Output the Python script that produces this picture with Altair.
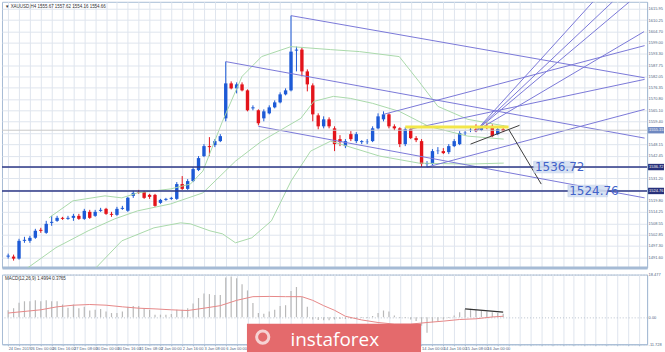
import altair as alt
import pandas as pd

# ---------------- data (XAUUSD H4) ----------------
opens = [1491.9, 1491.9, 1490.9, 1499.8, 1499.8, 1501.3, 1505.3, 1503.8, 1508.8, 1509.8,
         1511.3, 1510.8, 1511.3, 1512.3, 1510.8, 1514.3, 1512.3, 1514.8, 1515.8, 1513.3,
         1512.8, 1515.8, 1514.8, 1522.3, 1524.3, 1524.3, 1522.8, 1522.8, 1518.8, 1520.3,
         1520.8, 1520.8, 1528.2, 1525.8, 1529.7, 1535.2, 1542.2, 1547.2, 1547.7, 1549.7,
         1561.1, 1578.6, 1576.1, 1578.1, 1575.1, 1566.1, 1565.1, 1561.1, 1563.6, 1566.6,
         1569.1, 1573.1, 1575.1, 1595.0, 1595.5, 1584.6, 1577.6, 1562.6, 1557.1, 1560.6,
         1556.1, 1550.7, 1547.2, 1553.2, 1549.7, 1549.2, 1549.2, 1549.7, 1556.1, 1560.6,
         1563.1, 1557.1, 1556.1, 1548.2, 1555.6, 1551.2, 1549.7, 1538.2, 1538.2, 1544.7,
         1544.7, 1544.2, 1547.2, 1548.2, 1553.7, 1555.2, 1555.7, 1555.2, 1556.6, 1557.1,
         1553.2, 1555.7]
highs = [1493.4, 1492.9, 1500.8, 1501.8, 1502.3, 1505.8, 1506.3, 1509.8, 1512.3, 1512.3,
         1511.8, 1512.3, 1513.3, 1513.3, 1515.8, 1515.3, 1515.3, 1516.3, 1516.3, 1514.3,
         1516.8, 1517.3, 1521.8, 1524.8, 1525.3, 1524.8, 1523.3, 1523.3, 1520.8, 1521.3,
         1521.8, 1529.2, 1532.2, 1530.7, 1536.7, 1542.2, 1548.2, 1551.7, 1550.7, 1553.2,
         1589.5, 1579.6, 1579.1, 1579.1, 1575.6, 1567.6, 1565.6, 1565.6, 1567.6, 1570.1,
         1574.1, 1576.1, 1612.5, 1597.0, 1596.5, 1585.6, 1578.6, 1563.6, 1562.1, 1561.6,
         1557.1, 1552.7, 1550.7, 1554.7, 1554.2, 1550.2, 1550.7, 1557.1, 1563.6, 1564.6,
         1563.6, 1558.1, 1556.6, 1556.6, 1556.1, 1552.2, 1550.7, 1539.7, 1545.7, 1546.7,
         1546.2, 1548.2, 1550.7, 1554.7, 1554.7, 1556.6, 1558.1, 1557.6, 1558.6, 1558.1,
         1556.6, 1557.6]
lows = [1490.9, 1489.9, 1490.4, 1498.8, 1498.8, 1500.8, 1503.8, 1503.3, 1507.3, 1509.3,
        1510.3, 1510.3, 1509.8, 1510.3, 1510.3, 1510.8, 1511.8, 1514.3, 1512.8, 1511.8,
        1512.3, 1515.3, 1514.3, 1521.3, 1523.3, 1520.8, 1520.8, 1516.8, 1518.3, 1519.8,
        1520.3, 1520.3, 1525.3, 1525.3, 1529.2, 1534.7, 1541.7, 1542.2, 1546.7, 1549.2,
        1559.6, 1575.6, 1573.6, 1574.6, 1564.6, 1565.1, 1557.6, 1559.6, 1563.1, 1566.1,
        1568.6, 1572.6, 1574.6, 1584.6, 1582.1, 1574.6, 1559.6, 1555.6, 1556.1, 1556.1,
        1544.7, 1547.2, 1546.2, 1549.7, 1548.7, 1548.2, 1548.2, 1549.2, 1555.6, 1559.6,
        1556.1, 1555.1, 1546.7, 1547.2, 1550.7, 1549.2, 1536.7, 1536.7, 1537.7, 1543.2,
        1543.2, 1543.2, 1546.7, 1547.7, 1552.7, 1554.2, 1554.2, 1554.7, 1555.7, 1551.7,
        1552.7, 1554.2]
closes = [1492.4, 1490.9, 1499.8, 1500.3, 1501.3, 1504.8, 1504.8, 1508.3, 1509.3, 1511.3,
          1510.8, 1511.3, 1512.3, 1510.8, 1514.8, 1511.3, 1514.3, 1515.3, 1513.3, 1512.8,
          1515.8, 1516.3, 1521.3, 1523.8, 1524.0, 1521.3, 1521.8, 1517.3, 1520.3, 1520.8,
          1521.3, 1528.2, 1525.8, 1529.7, 1535.7, 1541.2, 1547.2, 1546.7, 1549.7, 1552.2,
          1578.6, 1576.1, 1578.1, 1575.1, 1565.1, 1566.6, 1558.6, 1564.6, 1566.6, 1569.1,
          1573.1, 1575.1, 1594.5, 1595.5, 1584.6, 1578.1, 1563.1, 1557.1, 1560.6, 1557.1,
          1548.2, 1549.2, 1549.7, 1550.7, 1553.2, 1549.7, 1549.4, 1556.1, 1562.1, 1563.1,
          1557.1, 1556.1, 1548.2, 1555.6, 1551.2, 1550.2, 1538.2, 1538.7, 1544.7, 1544.9,
          1543.7, 1547.2, 1549.7, 1553.7, 1553.9, 1555.4, 1554.7, 1556.6, 1556.4, 1552.2,
          1555.7, 1554.7]

macd_hist = [3.0, 3.9, 6.3, 6.9, 6.9, 7.3, 6.9, 7.3, 6.9, 6.9,
             5.5, 4.1, 5.5, 3.9, 4.5, 2.9, 3.2, 3.6, 2.5, 1.8,
             1.8, 2.5, 4.5, 4.8, 4.8, 3.9, 3.2, 1.1, 1.1, 1.1,
             1.4, 3.2, 3.2, 3.9, 5.9, 8.3, 10.3, 10.0, 9.6, 9.6,
             17.2, 17.6, 16.9, 14.3, 11.6, 6.2, 1.8, 1.5, 2.5, 3.2,
             4.8, 5.2, 11.4, 13.1, 8.7, 4.5, -1.0, -1.2, -1.3, -1.3,
             -1.0, -0.8, -0.8, -0.7, -0.6, -0.4, -0.3, 0.5, 1.8, 2.9,
             2.5, 0.7, -0.4, -0.4, -1.0, -1.6, -3.7, -6.7, -2.3, -1.6,
             -1.0, -0.3, 0.7, 2.1, 3.4, 3.6, 3.2, 2.9, 2.5, 2.1,
             1.8, 1.5]
signal_k = [0, 6, 9, 12, 15, 18, 21, 24, 27, 30, 33, 36, 39, 42, 45, 48, 51, 54, 56, 58,
            60, 62, 65, 68, 71, 74, 77, 80, 83, 86, 89, 91]
signal_v = [1.8, 3.2, 4.5, 5.2, 5.5, 5.2, 4.5, 3.9, 3.6, 3.2, 2.9, 3.9, 5.0, 7.3, 8.9, 9.0,
            8.9, 8.9, 7.3, 5.0, 3.0, 0.4, -1.2, -2.3, -3.0, -3.0, -2.3, -1.7, -1.0, -0.7,
            0.1, 0.4]

# Bollinger bands (read points)
bb_up_k = [7.5, 11.9, 17.8, 20.9, 23.8, 29.9, 33.5, 35.8, 39.4, 43, 46.6, 52, 59.3, 64.6, 71.9, 75.5, 79, 84.5, 91.7]
bb_up_p = [1511.3, 1519.8, 1522.3, 1521.3, 1523.8, 1525.8, 1528.2, 1534.7, 1559.6, 1582.1, 1592.0, 1597.0,
           1595.5, 1594.5, 1592.0, 1579.6, 1567.1, 1560.6, 1557.1]
bb_mid_k = [3.4, 8.8, 14.7, 19.6, 23.8, 29.9, 35.8, 41.8, 46.6, 53.8, 56.2, 59.8, 62.9, 67, 71.9, 77.3, 84.5, 91.1]
bb_mid_p = [1485.9, 1496.4, 1504.8, 1510.8, 1514.8, 1518.3, 1523.8, 1539.7, 1549.7, 1561.1, 1569.6, 1572.1,
            1571.1, 1568.6, 1564.6, 1557.1, 1552.2, 1550.7]
bb_low_k = [16, 20.9, 26.8, 31.7, 33.5, 37.1, 39.4, 41.8, 44.8, 48.4, 52, 55.6, 59.3, 68.3, 75.5, 84.5, 91.1]
bb_low_p = [1485.9, 1499.8, 1506.3, 1508.8, 1508.3, 1504.8, 1503.3, 1498.8, 1501.3, 1509.8, 1529.7, 1544.7,
            1549.7, 1542.2, 1538.7, 1538.2, 1538.7]

# drawn objects: (bar index, price) end points
chan_names = ["A", "B", "C", "D", "E", "F", "G1", "G2", "G3", "G4"]
chan_k0 = [52, 40, 46, 77, 69, 73.7, 85.9, 85.9, 85.9, 85.9]
chan_p0 = [1612.5, 1589.5, 1557.1, 1536.7, 1563.1, 1555.6, 1554.6, 1554.6, 1554.6, 1554.6]
chan_k1 = [117, 117, 117, 117, 117, 117, 107.5, 111.1, 114.2, 116.9]
chan_p1 = [1581.4, 1551.2, 1521.3, 1565.6, 1597.5, 1580.6, 1619.4, 1619.4, 1619.4, 1604.5]

black_k0 = [85, 92]
black_p0 = [1548.2, 1555.65]
black_k1 = [94, 98]
black_p1 = [1557.6, 1528.2]

yellow_k = [73, 92]
yellow_p = 1556.8

level_prices = [1536.72, 1524.76]
level_text = ["1536.72", "1524.76"]
level_box_k = [96.6, 102.9]
current_price = 1555.15

price_ticks = [1615.95, 1610.25, 1604.70, 1599.00, 1593.30, 1587.75, 1582.05, 1576.35, 1570.80,
               1565.10, 1559.40, 1553.85, 1548.15, 1542.45, 1536.90, 1531.20, 1525.50, 1519.80,
               1514.25, 1508.55, 1502.85, 1497.30, 1491.60]
macd_ticks = [18.477, 0.0, -11.728]
macd_tick_text = ["18.477", "0.00", "-11.728"]

# bar-axis labels every 4 bars (k = 0, 4, ..., 88); those under the logo box are hidden
x_label_text = ["24 Dec 2019", "26 Dec 00:00", "26 Dec 16:00", "27 Dec 08:00", "30 Dec 00:00",
                "30 Dec 16:00", "31 Dec 08:00", "2 Jan 00:00", "2 Jan 16:00", "3 Jan 08:00",
                "6 Jan 00:00", "", "", "", "", "", "", "", "", "14 Jan 00:00",
                "14 Jan 16:00", "15 Jan 08:00", "16 Jan 00:00"]

# ---------------- layout / style ----------------
W = 648
H1 = 267
H2 = 70
STEP = 5.55
KMIN = -1.2 / STEP
KMAX = KMIN + W / STEP
PMIN, PMAX = 1486.4, 1619.43
MMIN, MMAX = -11.728, 18.477

GRID = "#dfe5ee"
FRAME = "#a6bbd5"
UP = "#1d5ad6"
DOWN = "#e3141b"
LINEC = "#7a78d8"
BBC = "#a9d9a9"
FONT = "Liberation Sans"

xs = alt.Scale(domain=[KMIN, KMAX], nice=False, zero=False)
ys = alt.Scale(domain=[PMIN, PMAX], nice=False, zero=False)
ms = alt.Scale(domain=[MMIN, MMAX], nice=False, zero=False)

tag_prices = [current_price] + level_prices
hide_cond = " || ".join(f"abs(datum.value - {p}) < 2.2" for p in tag_prices)

grid_vals = list(range(0, 118, 2))
x_axis_top = alt.Axis(values=grid_vals, labels=False, ticks=False, title=None, grid=True,
                      gridColor=GRID, domainColor=FRAME, domainWidth=3)
y_axis_top = alt.Axis(orient="right", values=price_ticks, labelFontSize=4,
                      labelExpr=f"({hide_cond}) ? '' : format(datum.value, '.2f')",
                      labelFont=FONT, labelColor="#4f5f80", ticks=False, labelPadding=1,
                      domainColor=FRAME, grid=True, gridColor=GRID, title=None)

arr = "[" + ",".join("'" + t + "'" for t in x_label_text) + "]"
x_axis_bot = alt.Axis(values=grid_vals, title=None, grid=True, gridColor=GRID,
                      labelExpr=f"(datum.value % 4 == 0 && datum.value <= 88) ? {arr}[datum.value / 4] : ''",
                      labelAlign="left", labelBaseline="top", labelFontSize=4, labelFont=FONT,
                      labelColor="#4f5f80", labelPadding=0.5, tickSize=1.5, tickColor=FRAME,
                      domainColor=FRAME, labelFlush=False, labelOverlap=False)
y_axis_bot = alt.Axis(orient="right", values=macd_ticks, labelFontSize=4, labelFont=FONT,
                      labelColor="#4f5f80", ticks=False, labelPadding=1, domainColor=FRAME,
                      grid=True, gridColor="#b9c3cf", gridDash=[1, 2], title=None,
                      labelExpr="datum.value == 0 ? '0.00' : (datum.value > 0 ? '18.477' : '-11.728')")


def X(f):
    return alt.X(f, type="quantitative", scale=xs, axis=x_axis_top)


def Y(f):
    return alt.Y(f, type="quantitative", scale=ys, axis=y_axis_top)


# ---------------- frames ----------------
n = len(opens)
candles = pd.DataFrame({
    "k": list(range(n)), "open": opens, "high": highs, "low": lows, "close": closes,
})
candles["dir"] = ["up" if c >= o else "down" for o, c in zip(opens, closes)]
colr = alt.Color("dir:N", scale=alt.Scale(domain=["up", "down"], range=[UP, DOWN]), legend=None)

wicks = alt.Chart(candles).mark_rule(strokeWidth=1).encode(
    x=X("k"), y=Y("low"), y2="high", color=colr)
bodies = alt.Chart(candles).mark_bar(size=3.4).encode(
    x=X("k"), y=Y("open"), y2="close", color=colr)

bb_rows = []
for name, ks, ps in [("up", bb_up_k, bb_up_p), ("mid", bb_mid_k, bb_mid_p), ("low", bb_low_k, bb_low_p)]:
    for i, (kk, pp) in enumerate(zip(ks, ps)):
        bb_rows.append({"band": name, "k": kk, "p": pp, "o": i})
bb = alt.Chart(pd.DataFrame(bb_rows)).mark_line(color=BBC, strokeWidth=1, clip=True).encode(
    x=X("k"), y=Y("p"), detail="band:N", order="o:Q")

ch_rows = []
for nm, a, b, c, d in zip(chan_names, chan_k0, chan_p0, chan_k1, chan_p1):
    ch_rows.append({"line": nm, "k": a, "p": b, "o": 0})
    ch_rows.append({"line": nm, "k": c, "p": d, "o": 1})
chans = alt.Chart(pd.DataFrame(ch_rows)).mark_line(color=LINEC, strokeWidth=1, clip=True).encode(
    x=X("k"), y=Y("p"), detail="line:N", order="o:Q")

blk = pd.DataFrame({"k0": black_k0, "p0": black_p0, "k1": black_k1, "p1": black_p1})
black = alt.Chart(blk).mark_rule(color="#3c3c3c", strokeWidth=1).encode(
    x=X("k0"), y=Y("p0"), x2="k1", y2="p1")

yel = alt.Chart(pd.DataFrame({"k0": [yellow_k[0]], "k1": [yellow_k[1]], "p": [yellow_p]})).mark_rule(
    color="#f2e64a", strokeWidth=3).encode(x=X("k0"), x2="k1", y=Y("p"))

bid = alt.Chart(pd.DataFrame({"p": [current_price]})).mark_rule(color="#c9c9c9", strokeWidth=1).encode(
    y=Y("p"))
levels = alt.Chart(pd.DataFrame({"p": level_prices})).mark_rule(color="#2c3786", strokeWidth=1.5).encode(
    y=Y("p"))

lbl = pd.DataFrame({"k": level_box_k, "p": level_prices, "t": level_text})
lbl["k2"] = lbl["k"] + 7.3
lbl["top"] = lbl["p"] + 2.9
lbl["bot"] = lbl["p"] - 2.9
lbl["kt"] = lbl["k"] + 0.25
lbl_box = alt.Chart(lbl).mark_rect(fill="#d3dff2", opacity=0.9, stroke="#b9c9e6", strokeWidth=0.5).encode(
    x=X("k"), x2="k2", y=Y("top"), y2="bot")
lbl_txt = alt.Chart(lbl).mark_text(align="left", baseline="middle", fontSize=12, font="DejaVu Sans",
                                   color="#4262c9").encode(x=X("kt"), y=Y("p"), text="t:N")

tags = pd.DataFrame({"p": tag_prices,
                     "t": [f"{current_price:.2f}"] + level_text,
                     "c": ["#6f88c0", "#27307a", "#27307a"]})
tags["top"] = tags["p"] + 1.6
tags["bot"] = tags["p"] - 1.6
tag_box = alt.Chart(tags).mark_rect().encode(
    x=alt.value(W + 1), x2=alt.value(W + 17), y=Y("top"), y2="bot",
    color=alt.Color("c:N", scale=None))
tag_txt = alt.Chart(tags).mark_text(align="left", baseline="middle", fontSize=4, font=FONT,
                                    color="white").encode(x=alt.value(W + 2), y=Y("p"), text="t:N")

title_top = alt.Chart(pd.DataFrame({"t": ["▼ XAUUSD,H4  1555.67 1557.62 1554.16 1554.66"]})).mark_text(
    align="left", baseline="middle", fontSize=4.5, font=FONT, color="#333333").encode(
    x=alt.value(3), y=alt.value(5), text="t:N")

top = alt.layer(wicks, bodies, bb, chans, bid, yel, levels, black, lbl_box, lbl_txt,
                tag_box, tag_txt, title_top).properties(width=W, height=H1)

# ---------------- MACD panel ----------------
def XB(f):
    return alt.X(f, type="quantitative", scale=xs, axis=x_axis_bot)


def YB(f):
    return alt.Y(f, type="quantitative", scale=ms, axis=y_axis_bot)


hist_df = pd.DataFrame({"k": list(range(len(macd_hist))), "v": macd_hist})
hist = alt.Chart(hist_df).mark_bar(size=1.2, color="#b9b9b9").encode(x=XB("k"), y=YB("v"))
sig = alt.Chart(pd.DataFrame({"k": signal_k, "v": signal_v})).mark_line(
    color="#e68787", strokeWidth=1).encode(x=XB("k"), y=YB("v"))
mblack = alt.Chart(pd.DataFrame({"k0": [84], "v0": [3.6], "k1": [91], "v1": [2.2]})).mark_rule(
    color="#333333", strokeWidth=1.2).encode(x=XB("k0"), y=YB("v0"), x2="k1", y2="v1")
mtitle = alt.Chart(pd.DataFrame({"t": ["MACD(12,26,9) 1.4994 0.3765"]})).mark_text(
    align="left", baseline="middle", fontSize=4.5, font=FONT, color="#333333").encode(
    x=alt.value(3), y=alt.value(4), text="t:N")

wm = pd.DataFrame({"k0": [43.9], "k1": [75.9], "v0": [-2.8], "v1": [-16.6], "kt": [51.9], "vt": [-12.4],
                   "t": ["instaforex"], "kl": [46.8], "vl": [-8.6]})
wm_box = alt.Chart(wm).mark_rect(color="#e46a6c").encode(x=XB("k0"), x2="k1", y=YB("v0"), y2="v1")
wm_txt = alt.Chart(wm).mark_text(align="left", baseline="alphabetic", fontSize=19, font="Open Sans",
                                 color="white").encode(x=XB("kt"), y=YB("vt"), text="t:N")
wm_logo = alt.Chart(wm).mark_point(shape="circle", size=150, stroke="white", strokeWidth=3,
                                   filled=False).encode(x=XB("kl"), y=YB("vl"))

bottom = alt.layer(hist, sig, mblack, mtitle, wm_box, wm_logo, wm_txt).properties(width=W, height=H2)

chart = alt.vconcat(top, bottom, spacing=3).properties(padding=0).configure(
    background="white").configure_view(stroke=FRAME, strokeWidth=1)

chart.save("out.html", embed_options={"renderer": "svg", "actions": False})
